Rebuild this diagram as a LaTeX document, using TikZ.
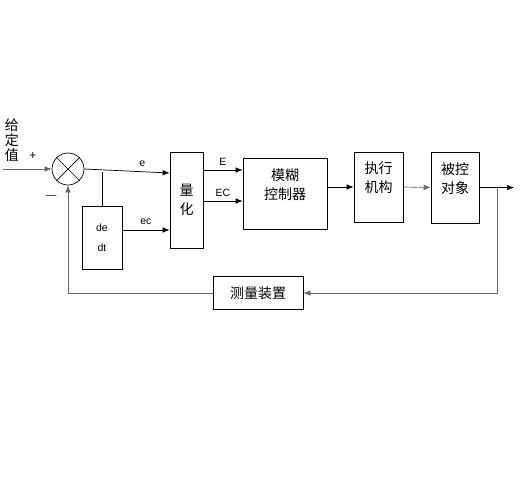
\documentclass[tikz,border=0pt]{standalone}
\usepackage{fontspec}
\setmainfont{Liberation Sans}
\newfontfamily\cjk{Noto Sans CJK SC}
\usetikzlibrary{arrows.meta,positioning,calc}

\begin{document}
\begin{tikzpicture}[x=1pt,y=-1pt,>={Latex[length=7pt,width=5.5pt]},line width=0.7pt]
  \useasboundingbox (0,0) rectangle (524,488);
  \tikzset{
    block/.style={rectangle,draw=black,inner sep=0pt,align=center,font=\cjk\fontsize{14}{19}\selectfont},
    summer/.style={circle,draw=black,minimum size=32pt,inner sep=0pt},
    % edge styles
    sig/.style={->,draw=black},
    fb/.style={draw=black!60},
    %label styles
    lab/.style={font=\fontsize{10.5}{12}\selectfont,inner sep=0pt}
  }

  %% forward path
  \node [summer] (sum) at (68,169) {};
  \draw (sum.north west) -- (sum.south east);
  \draw (sum.north east) -- (sum.south west);
  \coordinate (in) at (3,169);
  \draw [fb,->] (in) -- (sum.west);
  \node [lab, font=\cjk\fontsize{14}{15}\selectfont, align=center] (ref) at (12,140) {给\\定\\值};
  \node [lab, font=\fontsize{12}{12}\selectfont] (plus) at (33,156) {+};
  \node [lab] (minus) at (51,197) {\textemdash};

  \node [block, minimum width=33pt, minimum height=96pt] (quant) at (186.5,200) {量\\化};
  \node [block, minimum width=40pt, minimum height=63pt, font=\fontsize{10.5}{20}\selectfont] (dedt) at (102,238) {de\\dt};

  \draw [sig] (sum.east) -- ([yshift=27pt]quant.west) node[lab, pos=.68, above=5pt] (e) {e};
  \coordinate (eb) at (102,172);
  \draw (eb) -- (dedt.north);
  \coordinate (ec) at (122,230);
  \draw [sig] (ec) -- (quant.west |- ec) node[lab, midway, above=5pt] (eclab) {ec};

  \node [block, minimum width=84pt, minimum height=71pt,
    label={[block, draw=none, yshift=9pt]center:{模糊\\控制器}}] (fuzzy) at (285,193.5) {};
  \coordinate (Ey) at (203,170);
  \coordinate (ECy) at (203,201);
  \draw [sig] (Ey) -- (fuzzy.west |- Ey) node[lab, midway, above=4pt] (E) {E};
  \draw [sig] (ECy) -- (fuzzy.west |- ECy) node[lab, midway, above=4pt] (EC) {EC};

  \node [block, minimum width=49pt, minimum height=70pt,
    label={[block, draw=none, yshift=9pt]center:{执行\\机构}}] (act) at (378.5,187) {};
  \node [block, minimum width=48pt, minimum height=71pt,
    label={[block, draw=none, yshift=9pt]center:{被控\\对象}}] (plant) at (455,187.5) {};

  \draw [sig] (fuzzy.east |- act) -- (act.west);
  \draw [sig, draw=black!60] (act.east) -- (plant.west);
  \coordinate (out) at (514,187.5);
  \draw [sig] (plant.east) -- (out);

  %% feedback path
  \coordinate (fbb) at (497,187.5);
  \node [block, minimum width=90pt, minimum height=33pt] (meas) at (258,293) {测量装置};
  \draw [fb,->] (fbb) |- (meas.east);
  \draw [fb,->] (meas.west) -| (sum.south);

\end{tikzpicture}
\end{document}
